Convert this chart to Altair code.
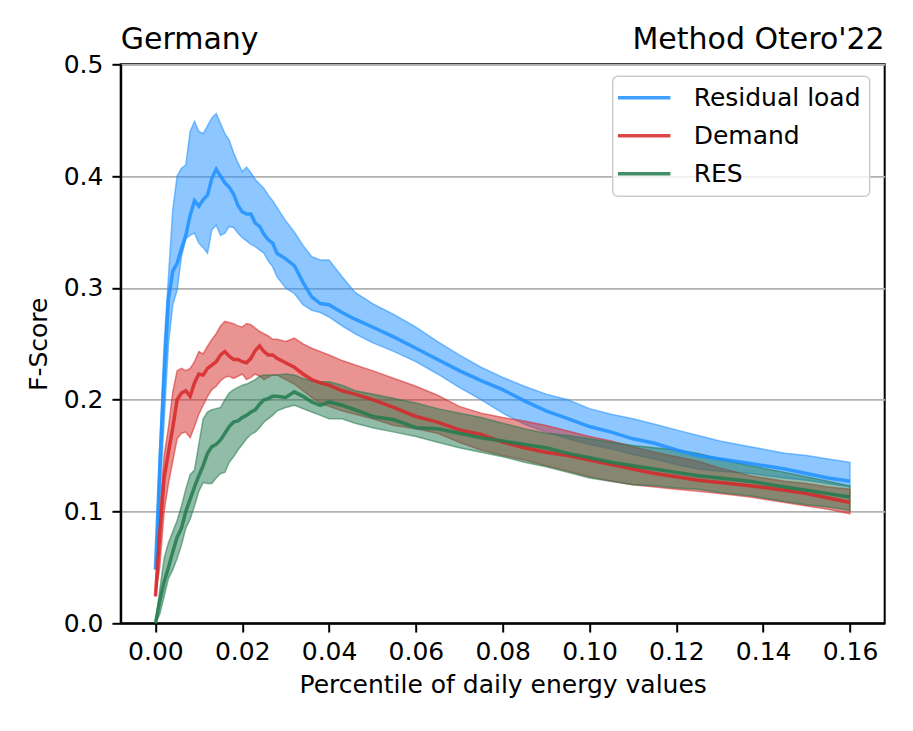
import altair as alt
import pandas as pd

# ---- data ----
X = [0.000, 0.001, 0.002, 0.003, 0.004, 0.005, 0.006, 0.007, 0.008, 0.009,
     0.010, 0.011, 0.012, 0.013, 0.014, 0.015, 0.016, 0.017, 0.018, 0.019,
     0.020, 0.021, 0.022, 0.023, 0.024, 0.025, 0.026, 0.027, 0.028, 0.030,
     0.032, 0.034, 0.036, 0.038, 0.040, 0.043, 0.046, 0.050, 0.055, 0.060,
     0.065, 0.070, 0.075, 0.080, 0.085, 0.090, 0.095, 0.100, 0.105, 0.110,
     0.115, 0.120, 0.125, 0.130, 0.137, 0.145, 0.150, 0.155, 0.160]

resid_mean = [0.048, 0.140, 0.220, 0.290, 0.315, 0.322, 0.335, 0.347, 0.365, 0.378,
              0.373, 0.379, 0.383, 0.398, 0.406, 0.400, 0.394, 0.390, 0.384, 0.374,
              0.368, 0.366, 0.366, 0.358, 0.355, 0.348, 0.343, 0.340, 0.331, 0.326,
              0.320, 0.305, 0.292, 0.286, 0.285, 0.278, 0.272, 0.265, 0.256, 0.246,
              0.236, 0.226, 0.217, 0.209, 0.199, 0.190, 0.183, 0.176, 0.171, 0.165,
              0.161, 0.155, 0.150, 0.147, 0.143, 0.138, 0.134, 0.130, 0.127]
resid_hi = [0.048, 0.160, 0.250, 0.310, 0.370, 0.400, 0.407, 0.410, 0.440, 0.449,
            0.440, 0.438, 0.445, 0.452, 0.456, 0.447, 0.438, 0.432, 0.421, 0.412,
            0.404, 0.408, 0.403, 0.397, 0.393, 0.389, 0.383, 0.378, 0.372, 0.360,
            0.350, 0.338, 0.328, 0.325, 0.325, 0.310, 0.296, 0.286, 0.276, 0.265,
            0.252, 0.240, 0.229, 0.220, 0.212, 0.205, 0.200, 0.192, 0.187, 0.183,
            0.178, 0.173, 0.168, 0.163, 0.158, 0.152, 0.150, 0.147, 0.144]
resid_lo = [0.048, 0.110, 0.180, 0.250, 0.285, 0.298, 0.328, 0.344, 0.347, 0.349,
            0.340, 0.336, 0.331, 0.352, 0.356, 0.347, 0.349, 0.355, 0.354, 0.349,
            0.345, 0.342, 0.339, 0.337, 0.334, 0.331, 0.324, 0.319, 0.310, 0.300,
            0.295, 0.285, 0.280, 0.278, 0.274, 0.266, 0.259, 0.251, 0.243, 0.234,
            0.223, 0.211, 0.200, 0.188, 0.178, 0.171, 0.165, 0.160, 0.156, 0.151,
            0.147, 0.142, 0.138, 0.136, 0.134, 0.130, 0.128, 0.125, 0.122]

demand_mean = [0.024, 0.080, 0.130, 0.153, 0.175, 0.200, 0.206, 0.208, 0.203, 0.215,
               0.223, 0.222, 0.228, 0.231, 0.234, 0.240, 0.243, 0.239, 0.236, 0.236,
               0.234, 0.233, 0.237, 0.244, 0.248, 0.243, 0.240, 0.240, 0.237, 0.233,
               0.229, 0.223, 0.218, 0.215, 0.213, 0.208, 0.205, 0.200, 0.193, 0.185,
               0.180, 0.173, 0.169, 0.162, 0.157, 0.153, 0.150, 0.146, 0.142, 0.138,
               0.134, 0.131, 0.128, 0.126, 0.123, 0.119, 0.116, 0.112, 0.108]
demand_hi = [0.024, 0.100, 0.150, 0.175, 0.207, 0.226, 0.228, 0.226, 0.228, 0.234,
             0.243, 0.241, 0.248, 0.254, 0.259, 0.266, 0.270, 0.269, 0.268, 0.266,
             0.265, 0.268, 0.267, 0.264, 0.261, 0.259, 0.257, 0.254, 0.254, 0.252,
             0.255, 0.250, 0.246, 0.243, 0.240, 0.235, 0.231, 0.226, 0.219, 0.212,
             0.204, 0.194, 0.188, 0.184, 0.181, 0.177, 0.172, 0.167, 0.163, 0.158,
             0.153, 0.149, 0.145, 0.139, 0.132, 0.127, 0.125, 0.122, 0.120]
demand_lo = [0.024, 0.050, 0.100, 0.125, 0.145, 0.165, 0.170, 0.171, 0.166, 0.176,
             0.187, 0.195, 0.203, 0.209, 0.212, 0.217, 0.220, 0.221, 0.219, 0.221,
             0.223, 0.218, 0.220, 0.223, 0.221, 0.218, 0.220, 0.222, 0.222, 0.218,
             0.214, 0.208, 0.202, 0.197, 0.194, 0.190, 0.187, 0.183, 0.177, 0.174,
             0.170, 0.162, 0.155, 0.150, 0.146, 0.141, 0.136, 0.131, 0.127, 0.124,
             0.122, 0.120, 0.118, 0.116, 0.113, 0.108, 0.105, 0.102, 0.098]

res_mean = [0.000, 0.020, 0.037, 0.050, 0.064, 0.077, 0.085, 0.100, 0.111, 0.122,
            0.132, 0.141, 0.152, 0.158, 0.160, 0.164, 0.170, 0.176, 0.180, 0.181,
            0.184, 0.186, 0.189, 0.191, 0.196, 0.200, 0.201, 0.203, 0.203, 0.202,
            0.207, 0.203, 0.198, 0.195, 0.198, 0.195, 0.191, 0.185, 0.182, 0.175,
            0.174, 0.170, 0.166, 0.163, 0.160, 0.157, 0.152, 0.148, 0.144, 0.141,
            0.138, 0.135, 0.132, 0.130, 0.127, 0.122, 0.119, 0.116, 0.113]
res_hi = [0.000, 0.030, 0.058, 0.072, 0.082, 0.092, 0.105, 0.120, 0.133, 0.137,
          0.160, 0.183, 0.189, 0.191, 0.192, 0.193, 0.200, 0.206, 0.209, 0.211,
          0.213, 0.214, 0.216, 0.218, 0.221, 0.222, 0.222, 0.222, 0.222, 0.223,
          0.222, 0.219, 0.217, 0.216, 0.216, 0.213, 0.208, 0.205, 0.201, 0.197,
          0.192, 0.188, 0.184, 0.179, 0.174, 0.170, 0.168, 0.165, 0.162, 0.159,
          0.157, 0.155, 0.152, 0.147, 0.141, 0.135, 0.131, 0.127, 0.123]
res_lo = [0.000, 0.008, 0.024, 0.040, 0.048, 0.058, 0.070, 0.085, 0.093, 0.105,
          0.118, 0.126, 0.125, 0.125, 0.130, 0.134, 0.135, 0.144, 0.149, 0.155,
          0.160, 0.165, 0.169, 0.171, 0.175, 0.180, 0.183, 0.186, 0.190, 0.193,
          0.195, 0.192, 0.189, 0.186, 0.183, 0.183, 0.179, 0.175, 0.171, 0.167,
          0.162, 0.157, 0.153, 0.149, 0.144, 0.140, 0.135, 0.130, 0.127, 0.124,
          0.123, 0.121, 0.120, 0.117, 0.114, 0.109, 0.106, 0.104, 0.101]

SERIES = ["Residual load", "Demand", "RES"]
COLORS = ["#1e90ff", "#d62728", "#237a4f"]
X_TICKS = [0.00, 0.02, 0.04, 0.06, 0.08, 0.10, 0.12, 0.14, 0.16]
Y_TICKS = [0.0, 0.1, 0.2, 0.3, 0.4, 0.5]

FONT = "DejaVu Sans"
W, H = 764, 559

frames = []
for order, (name, m, lo, hi) in enumerate([("Residual load", resid_mean, resid_lo, resid_hi),
                                          ("Demand", demand_mean, demand_lo, demand_hi),
                                          ("RES", res_mean, res_lo, res_hi)]):
    frames.append(pd.DataFrame({"x": X, "mean": m, "lo": lo, "hi": hi,
                                "series": name, "order": order}))
all_df = pd.concat(frames, ignore_index=True)

color_scale = alt.Scale(domain=SERIES, range=COLORS)

x_enc = alt.X("x:Q",
              scale=alt.Scale(domain=[-0.008, 0.168], nice=False, zero=False),
              axis=alt.Axis(values=X_TICKS, format=".2f",
                            title="Percentile of daily energy values",
                            grid=False, labelPadding=7, titlePadding=8))
y_axis = alt.Axis(values=Y_TICKS, format=".1f", title="F-Score", grid=True,
                  labelPadding=9, titlePadding=12)
y_scale = alt.Scale(domain=[0, 0.5], nice=False)

layers = []
for df, col in zip(frames, COLORS):
    layers.append(
        alt.Chart(df).mark_area(fillOpacity=0.5, strokeOpacity=0.55, strokeWidth=1.5,
                                fill=col, stroke=col)
        .encode(x=x_enc,
                y=alt.Y("lo:Q", scale=y_scale, axis=y_axis),
                y2="hi:Q")
    )

legend = alt.Legend(title=None, orient="none", legendX=492, legendY=12,
                    direction="vertical",
                    symbolType="M-2.5,0H2.5", symbolSize=441,
                    symbolStrokeWidth=3.5, symbolOpacity=0.85,
                    symbolOffset=10, labelOffset=37, labelLimit=400,
                    labelFontSize=25, labelFont=FONT, labelColor="black",
                    padding=9, rowPadding=12,
                    fillColor="rgba(255,255,255,0.8)", strokeColor="#cccccc",
                    cornerRadius=5)

layers.append(
    alt.Chart(all_df).mark_line(strokeWidth=3.5, opacity=0.85)
    .encode(x=x_enc,
            y=alt.Y("mean:Q", scale=y_scale, axis=y_axis),
            color=alt.Color("series:N", scale=color_scale, legend=legend),
            order="order:Q")
)

title_df = pd.DataFrame({"t": ["Germany"]})
title_df2 = pd.DataFrame({"t": ["Method Otero'22"]})
layers.append(alt.Chart(title_df).mark_text(align="left", baseline="alphabetic",
                                            fontSize=30, font=FONT, color="black")
              .encode(text="t:N", x=alt.value(0), y=alt.value(-15)))
layers.append(alt.Chart(title_df2).mark_text(align="right", baseline="alphabetic",
                                             fontSize=30, font=FONT, color="black")
              .encode(text="t:N", x=alt.value(W), y=alt.value(-15)))

chart = (
    alt.layer(*layers)
    .properties(width=W, height=H,
                autosize=alt.AutoSizeParams(type="none"),
                padding={"left": 112.7, "top": 56.3, "right": 20, "bottom": 95})
    .configure_view(stroke="black", strokeWidth=2)
    .configure_axis(labelFont=FONT, titleFont=FONT, labelFontSize=25, titleFontSize=25,
                    labelColor="black", titleColor="black", titleFontWeight="normal",
                    domainColor="black", domainWidth=2, tickColor="black",
                    tickWidth=2, tickSize=8.75, gridColor="#b0b0b0", gridWidth=1.8)
    .configure_legend(strokeWidth=1.5)
)

chart.save("out.html", embed_options={"renderer": "svg", "actions": False})
